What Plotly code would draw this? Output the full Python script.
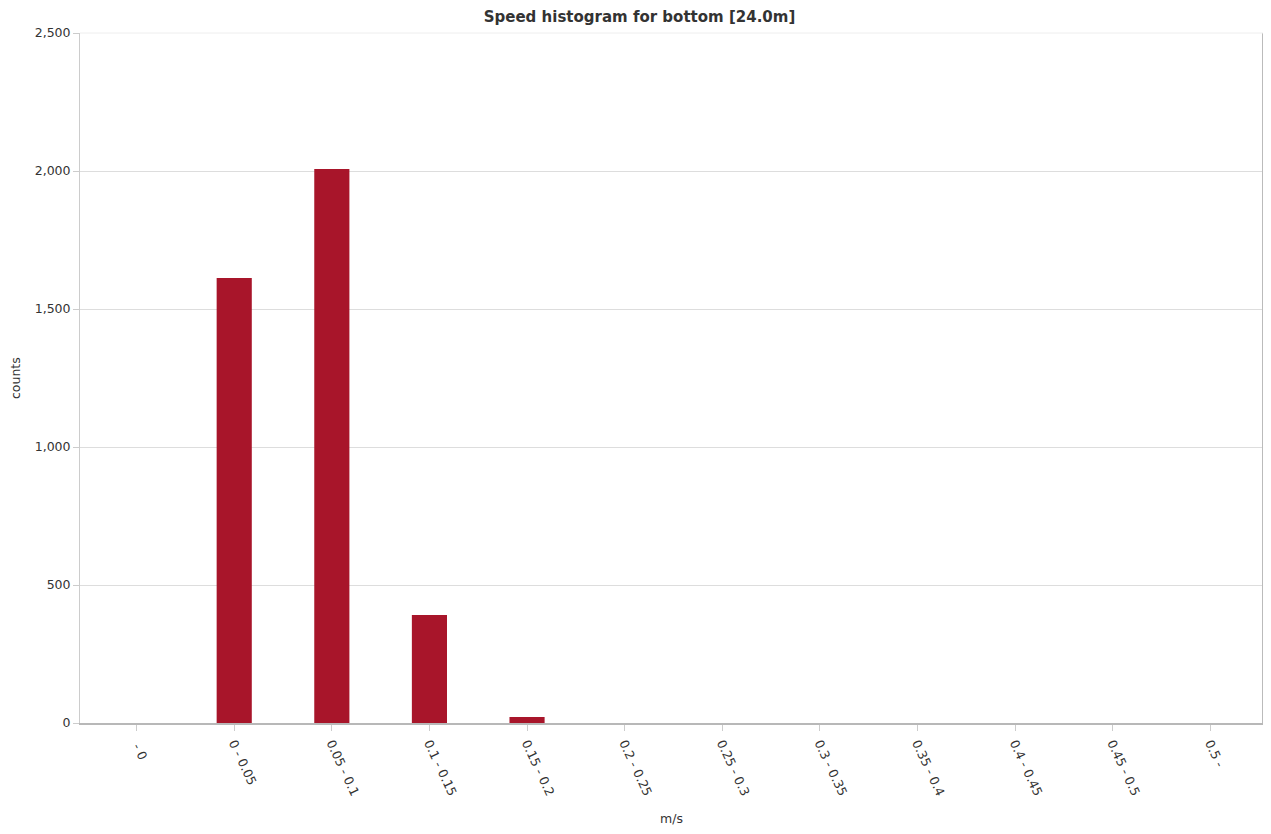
import plotly.graph_objects as go

categories = [" - 0", "0 - 0.05", "0.05 - 0.1", "0.1 - 0.15", "0.15 - 0.2", "0.2 - 0.25",
              "0.25 - 0.3", "0.3 - 0.35", "0.35 - 0.4", "0.4 - 0.45", "0.45 - 0.5", "0.5 - "]
counts = [0, 1612, 2007, 391, 22, 0, 0, 0, 0, 0, 0, 0]

FONT = "DejaVu Sans"
TXT = "#333333"
W, H = 1263, 826  # page body has an 8px margin

fig = go.Figure()
fig.add_trace(go.Bar(
    x=categories, y=counts, width=0.36,
    marker=dict(color="#a8152a", line=dict(width=0)),
    hoverinfo="x+y",
))

fig.update_layout(
    width=W, height=H,
    margin=dict(l=72, r=8, t=25, b=111),
    paper_bgcolor="white", plot_bgcolor="white",
    showlegend=False,
    font=dict(family=FONT, size=12, color=TXT),
    title=dict(text="<b>Speed histogram for bottom [24.0m]</b>", x=0.5, xref="container",
               y=1 - 9 / H, yanchor="middle", font=dict(family=FONT, size=15, color=TXT)),
    xaxis=dict(
        type="category", range=[-0.58, 11.54], automargin=False,
        tickangle=65, ticks="outside", ticklen=6, tickcolor="#cccccc",
        showline=True, linecolor="#b8b8b8", linewidth=2,
        showgrid=False, zeroline=False,
        tickfont=dict(size=12.5, color=TXT),
    ),
    yaxis=dict(
        range=[0, 2500], dtick=500, tickformat=",", automargin=False,
        ticks="outside", ticklen=6, tickcolor="#cccccc",
        showline=True, linecolor="#cccccc", linewidth=1,
        gridcolor="#dddddd", zeroline=False,
        tickfont=dict(size=12.5, color=TXT),
    ),
    annotations=[
        dict(text="counts", xref="paper", yref="paper", x=-(80 - 15) / 1183, y=0.5,
             textangle=-90, showarrow=False, font=dict(size=12.5, color=TXT),
             xanchor="center", yanchor="middle"),
        dict(text="m/s", xref="paper", yref="paper", x=0.5, y=-(818 - 723) / 690,
             showarrow=False, font=dict(size=12.5, color=TXT),
             xanchor="center", yanchor="middle"),
    ],
)

fig.add_shape(type="line", xref="x domain", yref="y domain", x0=1, x1=1, y0=0, y1=1,
              line=dict(color="#bbbbbb", width=2))
fig.add_shape(type="line", xref="x domain", yref="y domain", x0=0, x1=1, y0=1, y1=1,
              line=dict(color="#eeeeee", width=1))

fig.write_html("out.html")
